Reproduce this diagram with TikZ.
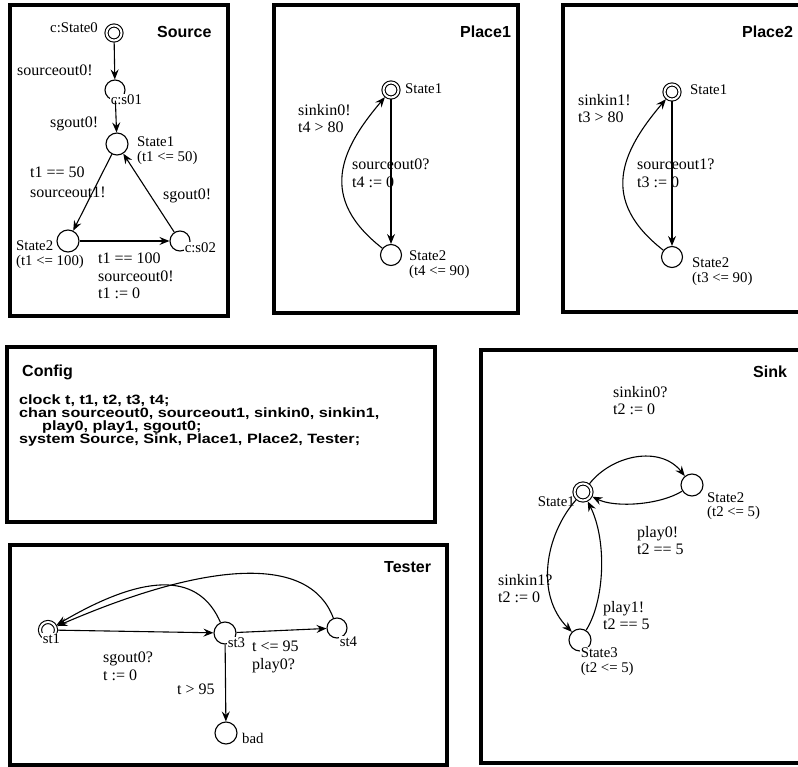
\documentclass[tikz,border=0pt]{standalone}
\usepackage{fontspec}
\setmainfont{Liberation Serif}
\newfontfamily\ttlfont{Liberation Sans}
\newfontfamily\cfgfont[FakeStretch=1.2]{Liberation Sans}
\usetikzlibrary{arrows.meta}

\begin{document}
\begin{tikzpicture}[x=1pt,y=-1pt,
  tabox/.style={line width=3.8pt},
  loc/.style={circle,draw,line width=1.1pt,inner sep=0pt,minimum size=21pt},
  initloc/.style={loc,double,double distance=2pt,minimum size=15pt,outer sep=2pt},
  elbl/.style={font=\fontsize{16}{17.5}\selectfont,inner sep=0pt,anchor=north west,align=left},
  slbl/.style={font=\fontsize{14.8}{14.5}\selectfont,inner sep=0pt,anchor=north west,align=left},
  cut/.style={slbl,fill=white,inner sep=0.6pt},
  ttl/.style={font=\ttlfont\bfseries\fontsize{16}{18}\selectfont,inner sep=0pt,anchor=west},
  trans/.style={line width=1.1pt,-{Stealth[length=10pt,width=8pt,inset=3.5pt]}}]
\useasboundingbox (0,0) rectangle (798,767);
\clip (0,0) rectangle (798,767);

\draw[tabox] (10,5) rectangle (228,316);
\draw[tabox] (274,5) rectangle (518,313);
\draw[tabox] (563,5) rectangle (815,312);
\draw[tabox] (7,347) rectangle (435,522);
\draw[tabox] (481,350) rectangle (815,763);
\draw[tabox] (10,545) rectangle (447,765);

% Source
\node[ttl] (srcname) at (157,32) {Source};
\node[initloc] (src0) at (114,33) {};
\node[loc,minimum size=20pt] (src01) at (115,90) {};
\node[loc,minimum size=22pt] (src1) at (117,144) {};
\node[loc,minimum size=22pt] (src2) at (68,241) {};
\node[loc,minimum size=20pt] (src02) at (180,241) {};
\node[slbl] (src0lbl) at (50,22) {c:State0};
\node[cut] (src01lbl) at (110,94) {c:s01};
\node[slbl] (src1lbl) at (137,137) {State1\\(t1 <= 50)};
\node[slbl] (src2lbl) at (16,241) {State2\\(t1 <= 100)};
\node[cut] (src02lbl) at (184,242) {c:s02};
\node[elbl] (srca) at (17,65) {sourceout0!};
\node[elbl] (srcb) at (50,117) {sgout0!};
\node[elbl] (srcc) at (30,167) {t1 == 50\\[2pt]sourceout1!};
\node[elbl] (srcd) at (163,189) {sgout0!};
\node[elbl] (srce) at (98,253) {t1 == 100\\sourceout0!\\t1 := 0};
\draw[trans] (src0) -- (src01);
\draw[trans] (src01) -- (src1);
\draw[trans] (src1) -- (src2);
\draw[trans] (src2) -- (src02);
\draw[trans] (src02) -- (src1);

% Place1
\node[ttl] (pafname) at (460,32) {Place1};
\node[initloc] (paf1) at (391,90) {};
\node[loc] (paf2) at (391,255) {};
\node[slbl] (paf1lbl) at (405,84) {State1};
\node[slbl] (paf2lbl) at (409,251) {State2\\(t4 <= 90)};
\node[elbl] (pafa) at (298,104) {sinkin0!\\t4 > 80};
\node[elbl] (pafb) at (352,159) {sourceout0?\\t4 := 0};
\draw[trans] (paf1) -- (paf2);
\draw[trans] (paf2) .. controls (318,198) and (340,150) .. (paf1);

% Place2
\node[ttl] (pbfname) at (742,32) {Place2};
\node[initloc] (pbf1) at (672,92) {};
\node[loc] (pbf2) at (672,257) {};
\node[slbl] (pbf1lbl) at (690,85) {State1};
\node[slbl] (pbf2lbl) at (692,258) {State2\\(t3 <= 90)};
\node[elbl] (pbfa) at (578,94) {sinkin1!\\t3 > 80};
\node[elbl] (pbfb) at (637,159) {sourceout1?\\t3 := 0};
\draw[trans] (pbf1) -- (pbf2);
\draw[trans] (pbf2) .. controls (599,200) and (621,152) .. (pbf1);

% Config
\node[ttl] (cfgname) at (22,372) {Config};
\node[font=\cfgfont\bfseries\fontsize{13.5}{12.7}\selectfont,inner sep=0pt,anchor=north west,align=left]
  (cfgtext) at (19,395) {clock t, t1, t2, t3, t4;\\
  chan sourceout0, sourceout1, sinkin0, sinkin1,\\
  \hspace*{23pt}play0, play1, sgout0;\\
  system Source, Sink, Place1, Place2, Tester;};

% Sink
\node[ttl] (snkname) at (753,372) {Sink};
\node[initloc,minimum size=17pt] (snk1) at (583,492) {};
\node[loc,minimum size=22pt] (snk2) at (692,485) {};
\node[loc,minimum size=22pt] (snk3) at (580,640) {};
\node[slbl,anchor=north east] (snk1lbl) at (575,496) {State1};
\node[slbl] (snk2lbl) at (707,492) {State2\\(t2 <= 5)};
\node[cut] (snk3lbl) at (580,647) {State3\\(t2 <= 5)};
\node[elbl] (snka) at (613,386) {sinkin0?\\t2 := 0};
\node[elbl] (snkb) at (637,526) {play0!\\t2 == 5};
\node[elbl] (snkc) at (498,574) {sinkin1?\\t2 := 0};
\node[elbl] (snkd) at (603,601) {play1!\\t2 == 5};
\draw[trans] (snk1) .. controls (612,455) and (660,445) .. (snk2);
\draw[trans] (snk2) .. controls (660,505) and (615,508) .. (snk1);
\draw[trans] (snk1) .. controls (545,535) and (535,595) .. (snk3);
\draw[trans] (snk3) .. controls (605,600) and (607,540) .. (snk1);

% Tester
\node[ttl] (tstname) at (384,567) {Tester};
\node[initloc,minimum size=16pt] (tst1) at (48,630) {};
\node[loc,minimum size=22pt] (tst3) at (225,633) {};
\node[loc,minimum size=20pt] (tst4) at (337,628) {};
\node[loc,minimum size=22pt] (tbad) at (226,733) {};
\node[cut] (tst1lbl) at (42,633) {st1};
\node[cut] (tst3lbl) at (227,637) {st3};
\node[cut] (tst4lbl) at (339,636) {st4};
\node[slbl] (tbadlbl) at (242,733) {bad};
\node[elbl] (tsta) at (103,652) {sgout0?\\t := 0};
\node[elbl] (tstb) at (252,641) {t <= 95\\play0?};
\node[elbl] (tstc) at (177,684) {t > 95};
\draw[trans] (tst1) -- (tst3);
\draw[trans] (tst3) -- (tst4);
\draw[trans] (tst3) -- (tbad);
\draw[trans] (tst3) .. controls (200,575) and (150,570) .. (tst1);
\draw[trans] (tst4) .. controls (310,555) and (210,560) .. (tst1);
\end{tikzpicture}
\end{document}
